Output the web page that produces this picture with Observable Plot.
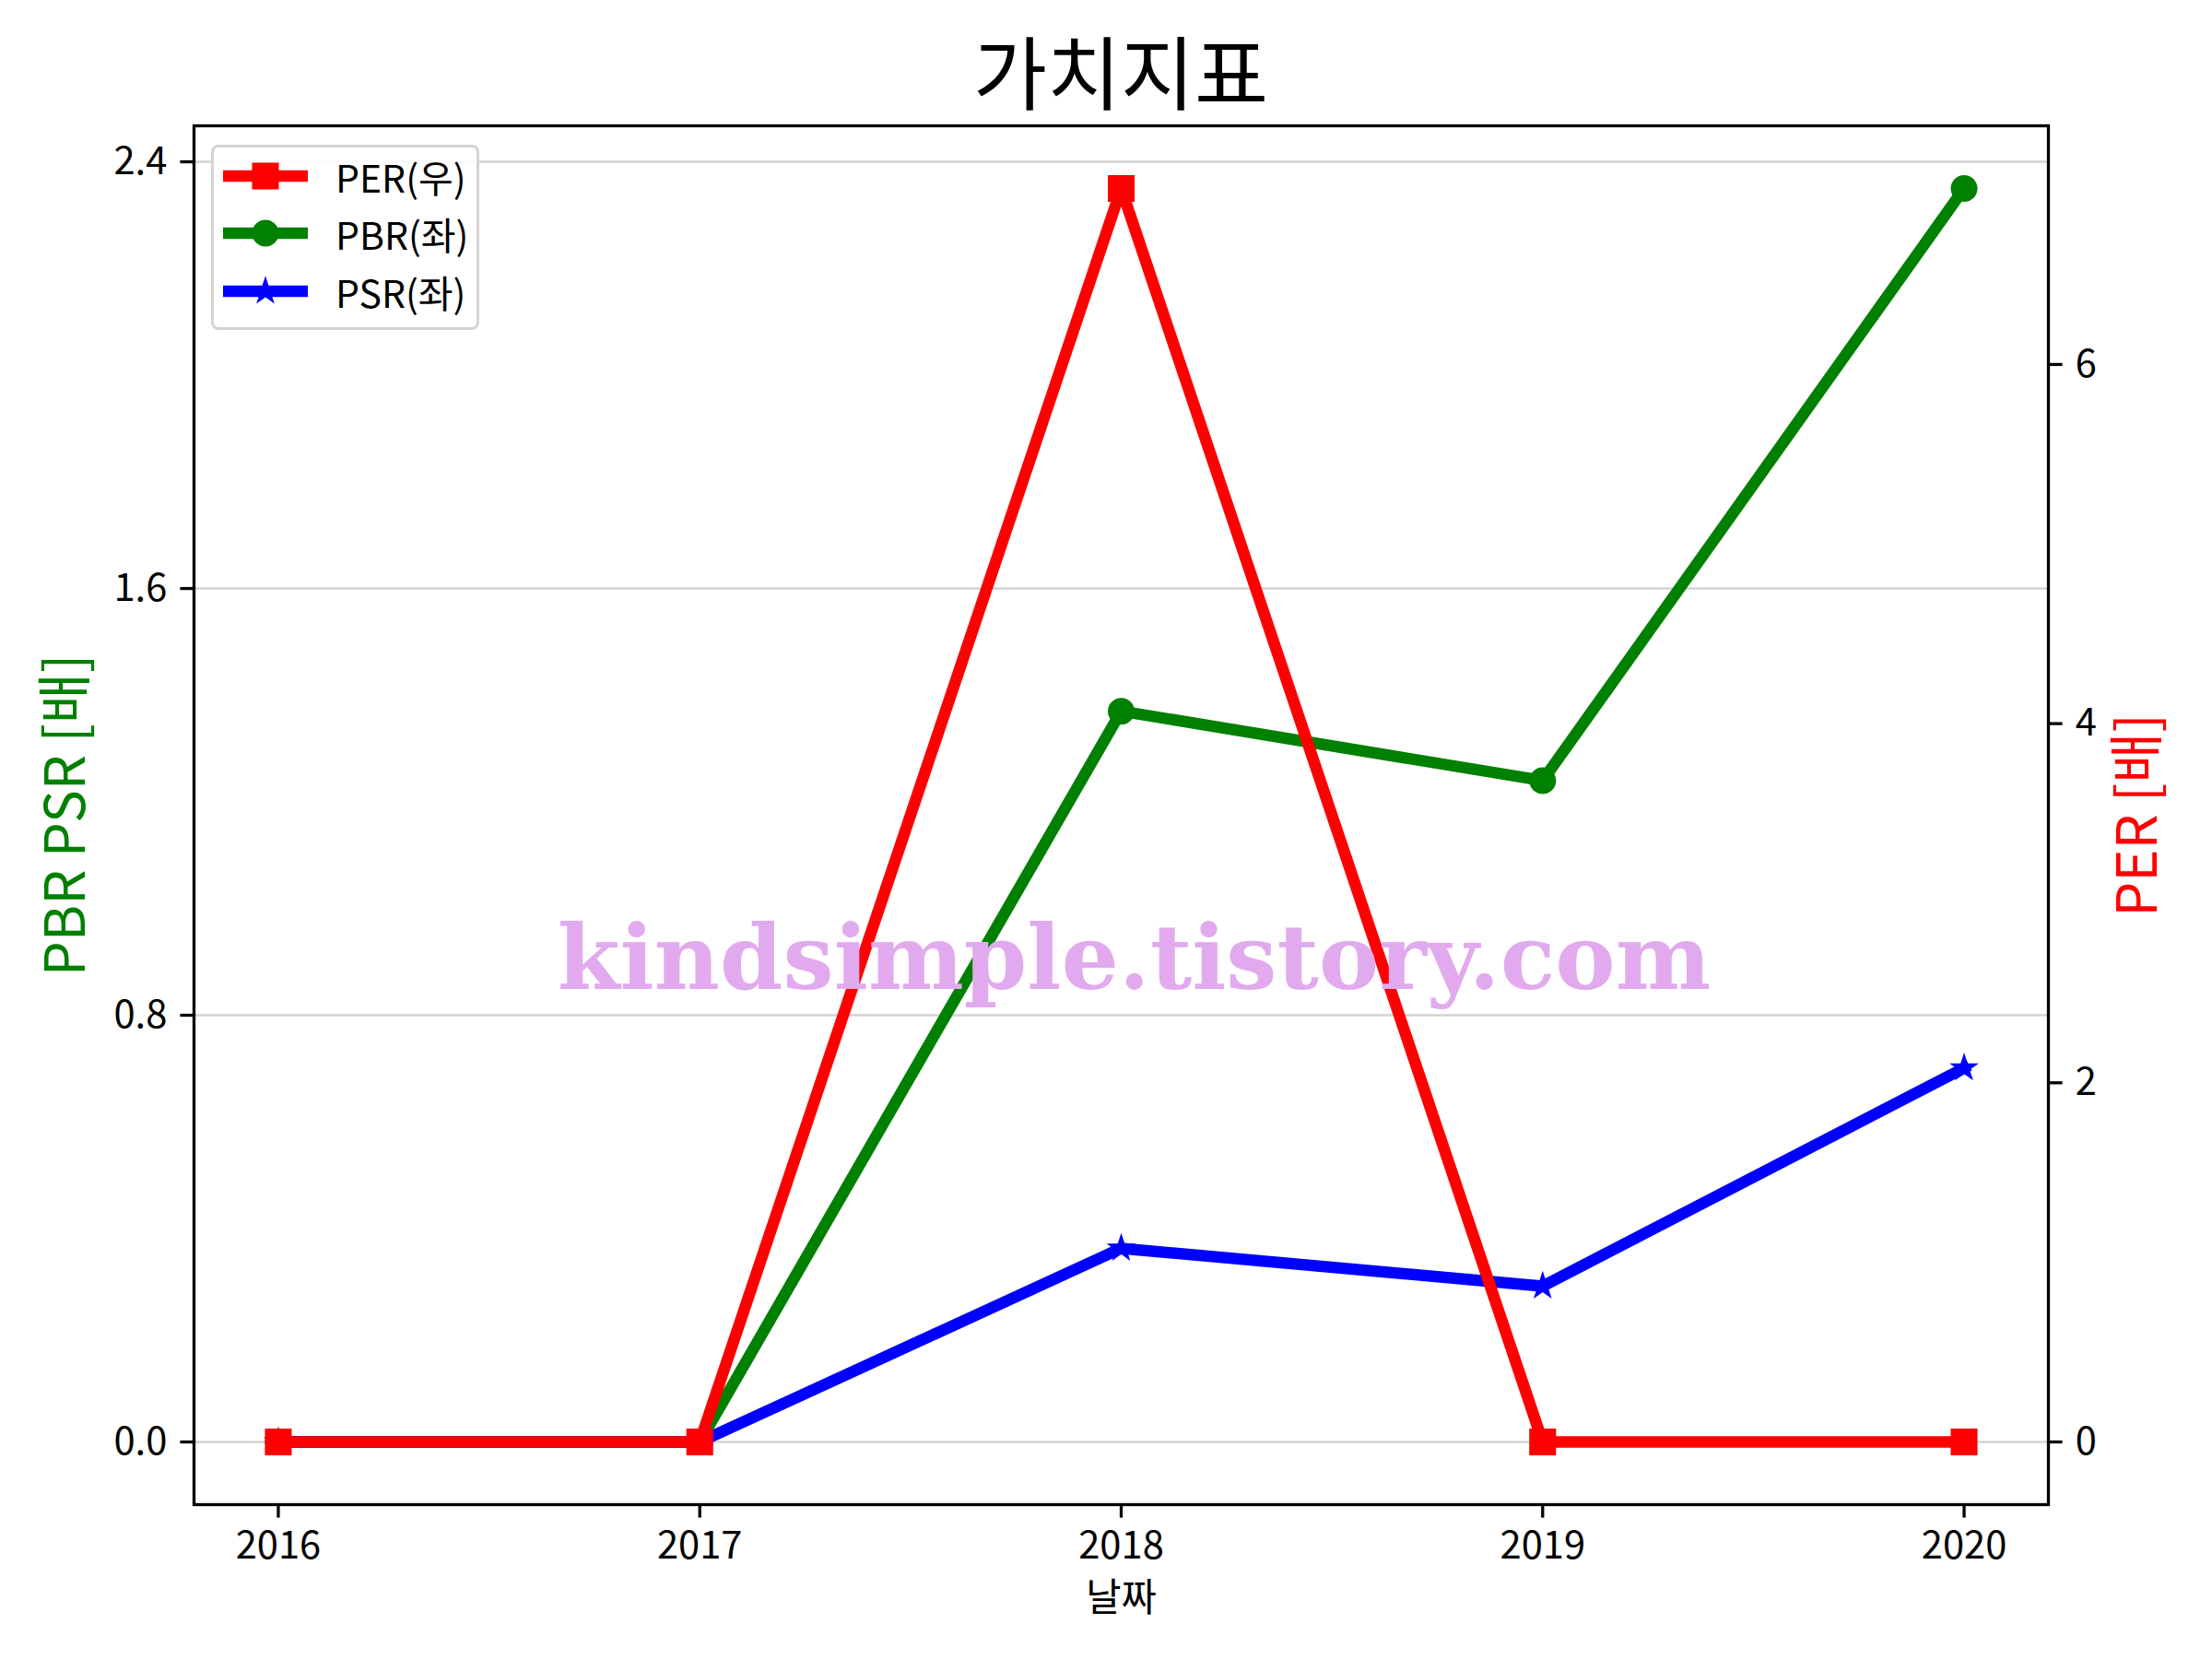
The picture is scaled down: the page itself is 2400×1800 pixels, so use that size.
<!DOCTYPE html>
<html>
<head>
<meta charset="utf-8">
<script src="https://cdn.jsdelivr.net/npm/d3@7"></script>
<script src="https://cdn.jsdelivr.net/npm/@observablehq/plot@0.6"></script>
<style>
  body { margin: 0; background: #fff; }
  #fig { position: relative; width: 2400px; height: 1800px; background: #fff; font-family: "Noto Sans CJK KR", "Noto Sans", sans-serif; }
  #title { position: absolute; left: 210px; width: 2012px; top: 32px; text-align: center; font-size: 87px; line-height: 87px; color: #000; }
  #plots { position: absolute; left: 0; top: 120px; width: 2400px; height: 1680px; }
  #plots svg { position: absolute; left: 0; top: 0; }
  #legend { position: absolute; left: 229px; top: 157px; width: 291px; height: 201px; box-sizing: border-box; border: 3px solid #d4d4d4; border-radius: 8px; background: rgba(255,255,255,0.85); }
  .row { position: absolute; left: 10px; height: 60px; width: 280px; }
  .row svg { position: absolute; left: 0; top: 0; }
  .row span { position: absolute; left: 122px; top: 0; line-height: 60px; font-size: 41px; color: #000; white-space: nowrap; }
</style>
</head>
<body>
<div id="fig">
  <div id="title"></div>
  <div id="plots"></div>
  <div id="legend"></div>
</div>
<script>
// ---- data ----
const years = [2016, 2017, 2018, 2019, 2020];
const perValues = [0, 0, 6.98, 0, 0];
const pbrValues = [0, 0, 1.37, 1.24, 2.35];
const psrValues = [0, 0, 0.363, 0.292, 0.701];
const leftTicks = [0, 0.8, 1.6, 2.4];
const rightTicks = [0, 2, 4, 6];
const seriesNames = ["PER(우)", "PBR(좌)", "PSR(좌)"];
const seriesColors = ["red", "green", "blue"];
const seriesSymbols = ["square", "circle", "star"];
const titleText = "가치지표";
const xLabelText = "날짜";
const leftLabelText = "PBR PSR [배]";
const rightLabelText = "PER [배]";
const watermarkText = ["kindsimple.tistory.com"];

// ---- tables ----
const perData = years.map((y, i) => ({year: y, v: perValues[i]}));
const pbrData = years.map((y, i) => ({year: y, v: pbrValues[i]}));
const psrData = years.map((y, i) => ({year: y, v: psrValues[i]}));

function padded(vals) {
  const lo = d3.min(vals), hi = d3.max(vals), r = hi - lo;
  return [lo - 0.05 * r, hi + 0.05 * r];
}
const xDomain = padded(years);
const leftDomain = padded([...pbrValues, ...psrValues]);
const rightDomain = padded(perValues);

const W = 2400, H = 1680;
const margins = {marginLeft: 210, marginRight: 178, marginTop: 16, marginBottom: 168};
const baseStyle = {fontFamily: "'Noto Sans CJK KR', 'Noto Sans', sans-serif", fontSize: "41.7px", background: "transparent", overflow: "visible", color: "#000"};
const LW = 12.5;
const markerR = {square: 16.4, circle: 14.5, star: 10};

const leftPlot = Plot.plot({
  width: W, height: H, ...margins,
  style: baseStyle,
  x: {domain: xDomain},
  y: {domain: leftDomain},
  marks: [
    Plot.gridY(leftTicks, {stroke: "#d3d3d3", strokeOpacity: 1, strokeWidth: 2.5}),
    Plot.line(pbrData, {x: "year", y: "v", stroke: "green", strokeWidth: LW, strokeLinejoin: "round", strokeLinecap: "square"}),
    Plot.dot(pbrData, {x: "year", y: "v", fill: "green", r: markerR.circle, symbol: "circle"}),
    Plot.line(psrData, {x: "year", y: "v", stroke: "blue", strokeWidth: LW, strokeLinejoin: "round", strokeLinecap: "square"}),
    Plot.dot(psrData, {x: "year", y: "v", fill: "blue", r: markerR.star, symbol: "star"}),
    Plot.axisY({ticks: leftTicks, tickFormat: d3.format(".1f"), tickSize: 14.6, tickPadding: 14.6, strokeWidth: 3.3, label: null}),
    Plot.axisX({ticks: years, tickFormat: d3.format("d"), tickSize: 14.6, tickPadding: 14.6, strokeWidth: 3.3, label: null}),
    Plot.text([leftLabelText], {text: d => d, frameAnchor: "left", rotate: -90, dx: -138, fill: "green", fontSize: 60, textAnchor: "middle", lineAnchor: "middle"}),
    Plot.text([xLabelText], {text: d => d, frameAnchor: "bottom", dy: 102, fill: "#000", fontSize: 41.7, textAnchor: "middle", lineAnchor: "middle"})
  ]
});

const rightPlot = Plot.plot({
  width: W, height: H, ...margins,
  style: baseStyle,
  x: {domain: xDomain, axis: null},
  y: {domain: rightDomain},
  marks: [
    Plot.line(perData, {x: "year", y: "v", stroke: "red", strokeWidth: LW, strokeLinejoin: "round", strokeLinecap: "square"}),
    Plot.dot(perData, {x: "year", y: "v", fill: "red", r: markerR.square, symbol: "square"}),
    Plot.axisY({anchor: "right", ticks: rightTicks, tickFormat: d3.format("d"), tickSize: 14.6, tickPadding: 14.6, strokeWidth: 3.3, label: null}),
    Plot.text([rightLabelText], {text: d => d, frameAnchor: "right", rotate: -90, dx: 98, fill: "red", fontSize: 60, textAnchor: "middle", lineAnchor: "middle"}),
    Plot.frame({stroke: "#000", strokeWidth: 3.3}),
    Plot.text(watermarkText, {text: d => d, frameAnchor: "middle", dx: 14, dy: 157, fill: "#e2aaee", fontSize: 98, fontWeight: 900, fontFamily: "'DejaVu Serif', serif", textAnchor: "middle", lineAnchor: "middle"})
  ]
});

document.getElementById("plots").append(leftPlot, rightPlot);
document.getElementById("title").textContent = titleText;

// ---- legend ----
const legend = document.getElementById("legend");
const rowCenters = [31, 93, 156];
seriesNames.forEach((name, i) => {
  const row = document.createElement("div");
  row.className = "row";
  row.style.top = (rowCenters[i] - 30) + "px";
  const sym = {square: d3.symbolSquare, circle: d3.symbolCircle, star: d3.symbolStar}[seriesSymbols[i]];
  const r = markerR[seriesSymbols[i]];
  const path = d3.symbol(sym, Math.PI * r * r)();
  row.innerHTML = `<svg width="100" height="60"><line x1="0" x2="92" y1="30" y2="30" stroke="${seriesColors[i]}" stroke-width="${LW}"/><path transform="translate(46,30)" d="${path}" fill="${seriesColors[i]}"/></svg><span>${name}</span>`;
  legend.appendChild(row);
});
</script>
</body>
</html>
